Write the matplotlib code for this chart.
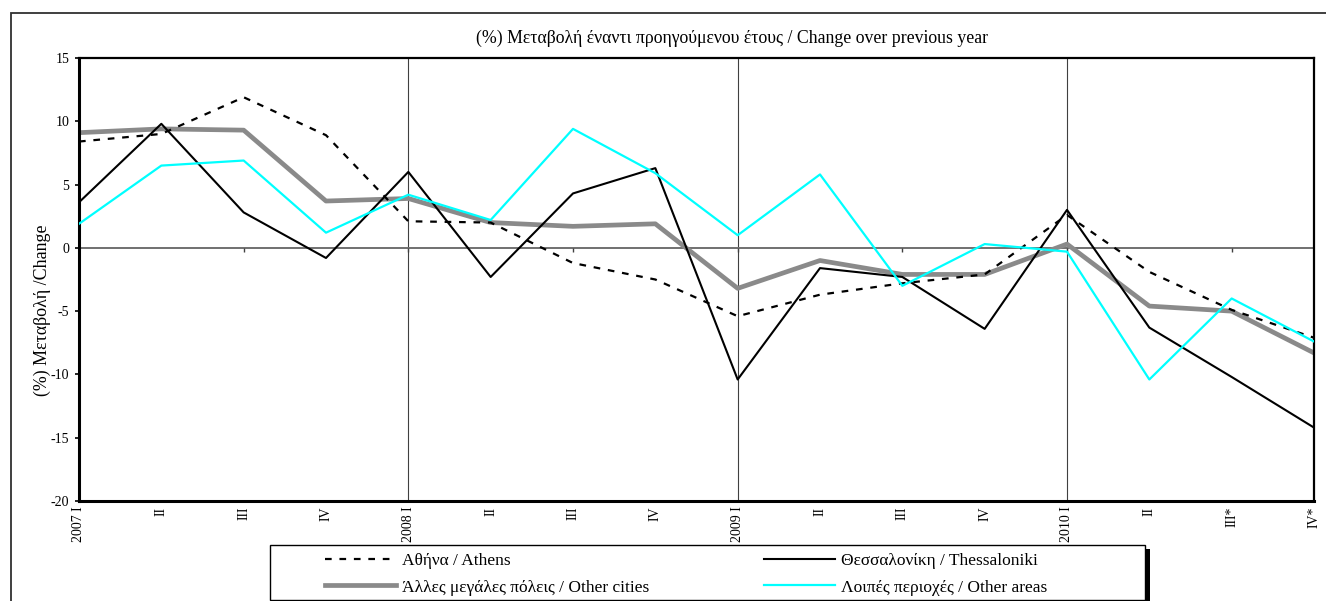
import matplotlib
matplotlib.use('Agg')
import matplotlib.pyplot as plt
import matplotlib.patches as patches

plt.rcParams['font.family'] = ['Liberation Serif', 'DejaVu Serif']
plt.rcParams['axes.unicode_minus'] = False

quarters = ['2007 I', 'II', 'III', 'IV', '2008 I', 'II', 'III', 'IV',
            '2009 I', 'II', 'III', 'IV', '2010 I', 'II', 'III*', 'IV*']
year_starts = ['2008 I', '2009 I', '2010 I']

athens = [8.4, 9.0, 11.9, 8.9, 2.1, 2.0, -1.2, -2.5,
          -5.4, -3.7, -2.8, -2.1, 2.6, -1.9, -4.9, -7.1]
thessaloniki = [3.6, 9.8, 2.8, -0.8, 6.0, -2.3, 4.3, 6.3,
                -10.4, -1.6, -2.3, -6.4, 3.0, -6.3, -10.2, -14.2]
other_cities = [9.1, 9.4, 9.3, 3.7, 3.9, 2.0, 1.7, 1.9,
                -3.2, -1.0, -2.1, -2.1, 0.3, -4.6, -5.0, -8.3]
other_areas = [1.9, 6.5, 6.9, 1.2, 4.2, 2.2, 9.4, 5.9,
               1.0, 5.8, -3.0, 0.3, -0.3, -10.4, -4.0, -7.4]

labels = ['Αθήνα / Athens', 'Θεσσαλονίκη / Thessaloniki',
          'Άλλες μεγάλες πόλεις / Other cities', 'Λοιπές περιοχές / Other areas']

W, H = 1326, 601
fig = plt.figure(figsize=(W / 100, H / 100), dpi=100)
ax = fig.add_axes([79 / W, 1 - 501 / H, (1314 - 79) / W, (501 - 58) / H])

x = list(range(len(quarters)))

# year separators and zero line
for q in year_starts:
    ax.axvline(quarters.index(q), color='#404040', lw=0.8, zorder=1)
ax.axhline(0, color='#707070', lw=1.4, zorder=1)
ax.plot(x[::2], [0] * len(x[::2]), ls='none', marker=3, ms=3, color='#404040', zorder=1)

l1, = ax.plot(x, athens, color='black', lw=1.6, dashes=(3, 3.5), zorder=3)
l2, = ax.plot(x, thessaloniki, color='black', lw=1.5, zorder=3)
l3, = ax.plot(x, other_cities, color='#8a8a8a', lw=3.4, zorder=2)
l4, = ax.plot(x, other_areas, color='#00ffff', lw=1.6, zorder=4)

ax.set_xlim(0, len(quarters) - 1)
ax.set_ylim(-20, 15)
ax.set_yticks(range(-20, 16, 5))
ax.set_xticks(x)
ax.set_xticklabels(quarters, rotation=90, va='top', ha='center', fontsize=10)
ax.tick_params(axis='x', length=0, pad=4)
ax.tick_params(axis='y', direction='out', length=3, width=1.2, pad=4, labelsize=10)

for side in ['top', 'right']:
    ax.spines[side].set_linewidth(1.6)
for side in ['left', 'bottom']:
    ax.spines[side].set_linewidth(2.2)

fig.text(732 / W, 1 - 38 / H, '(%) Μεταβολή έναντι προηγούμενου έτους / Change over previous year',
         ha='center', va='center', fontsize=12.8)
fig.text(42 / W, 1 - 310 / H, '(%) Μεταβολή /Change', rotation=90,
         ha='center', va='center', fontsize=12.9)

# outer frame
fig.add_artist(patches.Rectangle((11 / W, -0.05), 1.1, 1 - 13 / H + 0.05, transform=fig.transFigure,
                                 fill=False, edgecolor='#303030', lw=1.3))

# legend frame with shadow on the right
fig.add_artist(patches.Rectangle((1145 / W, 0), 5 / W, 1 - 549 / H, transform=fig.transFigure,
                                 facecolor='black', edgecolor='none'))
fig.add_artist(patches.Rectangle((270 / W, 1 / H), (1145 - 270) / W, (600 - 545) / H,
                                 transform=fig.transFigure, facecolor='white',
                                 edgecolor='black', lw=1.0))

leg = fig.legend([l1, l3, l2, l4], [labels[0], labels[2], labels[1], labels[3]],
                 ncol=2, loc='upper left', bbox_to_anchor=(313 / W, 1 - 541 / H),
                 frameon=False, fontsize=12.5, handlelength=4.1, handletextpad=0.35,
                 columnspacing=6.6, labelspacing=0.58, borderpad=0.2)

fig.savefig('out.png', dpi=100)
